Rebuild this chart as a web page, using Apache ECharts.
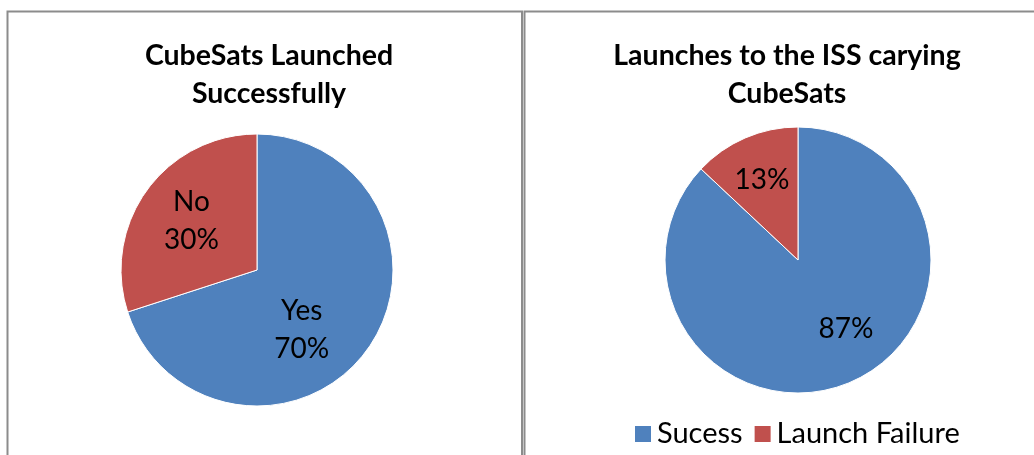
<!DOCTYPE html>
<html>
<head>
<meta charset="utf-8">
<script src="https://cdn.jsdelivr.net/npm/echarts@6/dist/echarts.min.js"></script>
<style>
  html, body { margin: 0; padding: 0; background: #fff; }
  #chart { width: 1034px; height: 455px; }
</style>
</head>
<body>
<div id="chart"></div>
<script>
// Left pie: share of CubeSats launched successfully
const leftTitle = 'CubeSats Launched\nSuccessfully';
const leftNames = ['Yes', 'No'];
const leftValues = [70, 30];

// Right pie: launches to the ISS carrying CubeSats
const rightTitle = 'Launches to the ISS carying\nCubeSats';
const rightNames = ['Sucess', 'Launch Failure'];
const rightValues = [87, 13];

const sliceColors = ['#4F81BD', '#C0504D'];
const FONT = 'Lato, "Open Sans", sans-serif';

const leftCenter = [257, 270], leftRadius = 136;
const rightCenter = [798, 260], rightRadius = 133;

// Small per-label nudges (px) applied after the radial shift
const leftNudge = [[-26, 9], [5, 2]];
const rightNudge = [[14, -9], [-2, -2]];

// Push each inside label a little further out along its slice's mid-angle
function labelShift(values, radius, idx, nudge) {
  const total = values.reduce((a, b) => a + b, 0);
  let before = 0;
  for (let i = 0; i < idx; i++) before += values[i];
  const theta = 2 * Math.PI * (before + values[idx] / 2) / total;
  const shift = radius * 0.12;
  return {
    dx: Math.sin(theta) * shift + nudge[idx][0],
    dy: -Math.cos(theta) * shift + nudge[idx][1]
  };
}

function pieData(names, values) {
  return names.map((n, i) => ({ name: n, value: values[i], itemStyle: { color: sliceColors[i] } }));
}

const chart = echarts.init(document.getElementById('chart'), null, { renderer: 'canvas' });

const titleStyle = { fontFamily: FONT, fontWeight: 'bold', fontSize: 28.5, lineHeight: 38, color: '#000' };
const labelStyle = { fontFamily: FONT, fontSize: 28, lineHeight: 38, color: '#000' };

chart.setOption({
  animation: false,
  graphic: [
    { type: 'rect', shape: { x: 7.5, y: 11.5, width: 514.5, height: 460 },
      style: { fill: 'none', stroke: '#8c8c8c', lineWidth: 2 }, silent: true },
    { type: 'rect', shape: { x: 524.5, y: 11.5, width: 520, height: 460 },
      style: { fill: 'none', stroke: '#8c8c8c', lineWidth: 2 }, silent: true }
  ],
  title: [
    { text: leftTitle, left: 264, top: 32, textAlign: 'center', textStyle: titleStyle },
    { text: rightTitle, left: 782, top: 32, textAlign: 'center', textStyle: titleStyle }
  ],
  legend: {
    data: rightNames,
    left: 628, top: 413,
    itemWidth: 18, itemHeight: 18, itemGap: 10,
    icon: 'rect',
    textStyle: { fontFamily: FONT, fontSize: 29, lineHeight: 32, color: '#000' }
  },
  series: [
    {
      type: 'pie',
      center: leftCenter,
      radius: leftRadius,
      startAngle: 90,
      clockwise: true,
      percentPrecision: 0,
      data: pieData(leftNames, leftValues),
      itemStyle: { borderColor: '#fff', borderWidth: 1 },
      label: Object.assign({ position: 'inside', formatter: '{b}\n{d}%' }, labelStyle),
      labelLayout: p => labelShift(leftValues, leftRadius, p.dataIndex, leftNudge),
      emphasis: { disabled: true }
    },
    {
      type: 'pie',
      center: rightCenter,
      radius: rightRadius,
      startAngle: 90,
      clockwise: true,
      percentPrecision: 0,
      data: pieData(rightNames, rightValues),
      itemStyle: { borderColor: '#fff', borderWidth: 1 },
      label: Object.assign({ position: 'inside', formatter: '{d}%' }, labelStyle),
      labelLayout: p => labelShift(rightValues, rightRadius, p.dataIndex, rightNudge),
      emphasis: { disabled: true }
    }
  ]
});
</script>
</body>
</html>
